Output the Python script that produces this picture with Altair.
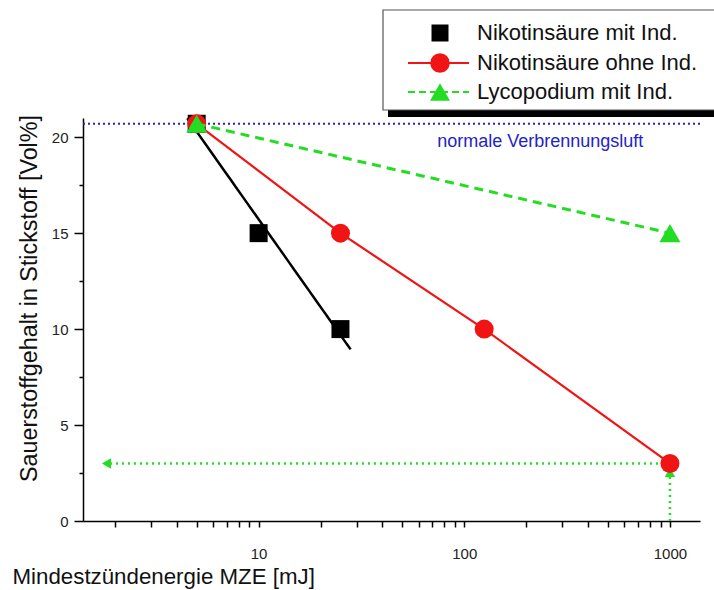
import altair as alt
import pandas as pd

FONT = "Liberation Sans"

# Mindestzündenergie [mJ] und Sauerstoffgehalt in Stickstoff [Vol%]
nik_mit_mze = [5, 10, 25]
nik_mit_o2 = [20.7, 15, 10]
nik_ohne_mze = [5, 25, 125, 1000]
nik_ohne_o2 = [20.7, 15, 10, 3]
lyco_mze = [5, 1000]
lyco_o2 = [20.7, 15]

# Sauerstoffgehalt normaler Verbrennungsluft
air_o2 = 20.7
air_label = "normale Verbrennungsluft"
air_label_mze = 234

# Bereich der Ausgleichsgeraden (Nikotinsäure mit Ind.)
fit_range = [4.5, 28]

# Ablese-Pfeile bei 1000 mJ
read_mze = 1000
read_o2 = 3
arrow_up_o2 = 2.53
arrow_left_mze = 1.82

series_labels = ["Nikotinsäure mit Ind.", "Nikotinsäure ohne Ind.", "Lycopodium mit Ind."]

x_tick_values = sorted([m * d for d in (1, 10, 100) for m in range(2, 10)] + [10, 100, 1000])
y_tick_values = [0, 2.5, 5, 7.5, 10, 12.5, 15, 17.5, 20]

BLACK = "#000000"
RED = "#f01414"
GREEN = "#22dd22"
BLUE = "#2323c8"

x_scale = alt.Scale(type="log", domain=[1.4, 1400])
y_scale = alt.Scale(domain=[0, 21])

x_axis = alt.Axis(
    values=x_tick_values,
    labelExpr="(datum.value == 10 || datum.value == 100 || datum.value == 1000) ? format(datum.value, 'd') : ''",
    title="Mindestzündenergie MZE [mJ]",
    titleFont=FONT, titleFontSize=22.3, titleFontWeight="normal", titleColor="#111111",
    titleX=-71, titleY=55, titleAlign="left", titleBaseline="middle",
    labelFont=FONT, labelFontSize=15, labelColor="#222222", labelPadding=19,
    labelOverlap=False, labelFlush=False,
    domainColor=BLACK, domainWidth=1.5, tickColor=BLACK, tickWidth=1.5, tickSize=6,
    grid=False,
)

y_axis = alt.Axis(
    values=y_tick_values,
    labelExpr="datum.value % 5 === 0 ? datum.label : ''",
    title="Sauerstoffgehalt in Stickstoff [Vol%]",
    titleFont=FONT, titleFontSize=23.3, titleFontWeight="normal", titleColor="#111111",
    titleX=-54, titleY=180, titleAngle=-90, titleAlign="center", titleBaseline="middle",
    labelFont=FONT, labelFontSize=15, labelColor="#222222", labelPadding=6,
    labelOverlap=False, labelFlush=False,
    domainColor=BLACK, domainWidth=1.5, tickColor=BLACK, tickWidth=1.5,
    tickSize={"condition": {"test": "datum.value % 5 === 0", "value": 9}, "value": 4},
    grid=False,
)


def xy():
    return dict(
        x=alt.X("x:Q", scale=x_scale, axis=x_axis),
        y=alt.Y("y:Q", scale=y_scale, axis=y_axis),
    )


nik_mit = pd.DataFrame({"x": nik_mit_mze, "y": nik_mit_o2})
nik_ohne = pd.DataFrame({"x": nik_ohne_mze, "y": nik_ohne_o2})
lyco = pd.DataFrame({"x": lyco_mze, "y": lyco_o2})

# horizontale Linie der normalen Verbrennungsluft
air_line = alt.Chart(pd.DataFrame({"y": [air_o2]})).mark_rule(
    color=BLUE, strokeWidth=2, strokeDash=[2, 3]
).encode(y=alt.Y("y:Q", scale=y_scale, axis=y_axis))

air_text = alt.Chart(pd.DataFrame({"x": [air_label_mze], "y": [air_o2], "t": [air_label]})).mark_text(
    font=FONT, fontSize=18, color=BLUE, align="center", baseline="middle", dy=18
).encode(text="t:N", **xy())

# Ablese-Pfeile (gepunktet)
read_up = alt.Chart(pd.DataFrame({"x": [read_mze], "y": [0], "y2": [arrow_up_o2]})).mark_rule(
    color=GREEN, strokeWidth=2.5, strokeDash=[2, 4]
).encode(y2="y2:Q", **xy())
read_left = alt.Chart(pd.DataFrame({"x": [read_mze], "x2": [arrow_left_mze], "y": [read_o2]})).mark_rule(
    color=GREEN, strokeWidth=2.5, strokeDash=[2, 4]
).encode(x2="x2:Q", **xy())
head_up = alt.Chart(pd.DataFrame({"x": [read_mze], "y": [arrow_up_o2]})).mark_point(
    shape="triangle-up", filled=True, color=GREEN, size=110, opacity=1
).encode(**xy())
head_left = alt.Chart(pd.DataFrame({"x": [arrow_left_mze], "y": [read_o2]})).mark_point(
    shape="triangle-left", filled=True, color=GREEN, size=110, opacity=1
).encode(**xy())

# Nikotinsäure mit Ind.: Messpunkte und logarithmische Ausgleichsgerade
fit_line = alt.Chart(nik_mit).transform_regression(
    "x", "y", method="log", extent=fit_range
).mark_line(color=BLACK, strokeWidth=2.5).encode(**xy())
nik_mit_pts = alt.Chart(nik_mit).mark_point(
    shape="square", filled=True, color=BLACK, size=324, opacity=1
).encode(**xy())

# Nikotinsäure ohne Ind.
nik_ohne_line = alt.Chart(nik_ohne).mark_line(color=RED, strokeWidth=2.2).encode(**xy())
nik_ohne_pts = alt.Chart(nik_ohne).mark_point(
    shape="circle", filled=True, color=RED, size=361, opacity=1
).encode(**xy())

# Lycopodium mit Ind.
lyco_line = alt.Chart(lyco).mark_line(color=GREEN, strokeWidth=3, strokeDash=[9, 6]).encode(**xy())
lyco_pts = alt.Chart(lyco).mark_point(
    shape="triangle-up", filled=True, color=GREEN, size=440, opacity=1
).encode(**xy())

# Legende oben rechts mit Schatten
one = pd.DataFrame({"k": [0]})
legend_shadow = alt.Chart(one).mark_rect(color=BLACK).encode(
    x=alt.value(305), x2=alt.value(700), y=alt.value(-9), y2=alt.value(-1)
)
legend_box = alt.Chart(one).mark_rect(fill="white", stroke="#555555", strokeWidth=1.2).encode(
    x=alt.value(300), x2=alt.value(700), y=alt.value(-108), y2=alt.value(-8)
)

legend_rows = [-85, -55, -26]
legend_sym_x = 357
legend_line_x = (325, 386)
legend_text_x = 394

legend_layers = [legend_shadow, legend_box]
legend_specs = [
    dict(color=BLACK, shape="square", size=289, line=None),
    dict(color=RED, shape="circle", size=380, line=[]),
    dict(color=GREEN, shape="triangle-up", size=400, line=[7, 4]),
]
for label, row_y, spec in zip(series_labels, legend_rows, legend_specs):
    if spec["line"] is not None:
        rule_kw = dict(color=spec["color"], strokeWidth=2.2)
        if spec["line"]:
            rule_kw["strokeDash"] = spec["line"]
        legend_layers.append(
            alt.Chart(one).mark_rule(**rule_kw).encode(
                x=alt.value(legend_line_x[0]), x2=alt.value(legend_line_x[1]), y=alt.value(row_y)
            )
        )
    legend_layers.append(
        alt.Chart(one).mark_point(
            shape=spec["shape"], filled=True, color=spec["color"], size=spec["size"], opacity=1
        ).encode(x=alt.value(legend_sym_x), y=alt.value(row_y))
    )
    legend_layers.append(
        alt.Chart(pd.DataFrame({"t": [label]})).mark_text(
            font=FONT, fontSize=22, color="#111111", align="left", baseline="middle"
        ).encode(x=alt.value(legend_text_x), y=alt.value(row_y), text="t:N")
    )

chart = alt.layer(
    air_line,
    air_text,
    read_up,
    read_left,
    head_up,
    head_left,
    fit_line,
    nik_mit_pts,
    nik_ohne_line,
    nik_ohne_pts,
    lyco_line,
    lyco_pts,
    *legend_layers,
).properties(
    width=617,
    height=403,
    padding={"left": 83, "top": 118, "right": 14, "bottom": 69},
    autosize=alt.AutoSizeParams(type="none"),
    background="white",
).configure_view(stroke=None)

chart.save("out.html", embed_options={"renderer": "svg", "actions": False})
